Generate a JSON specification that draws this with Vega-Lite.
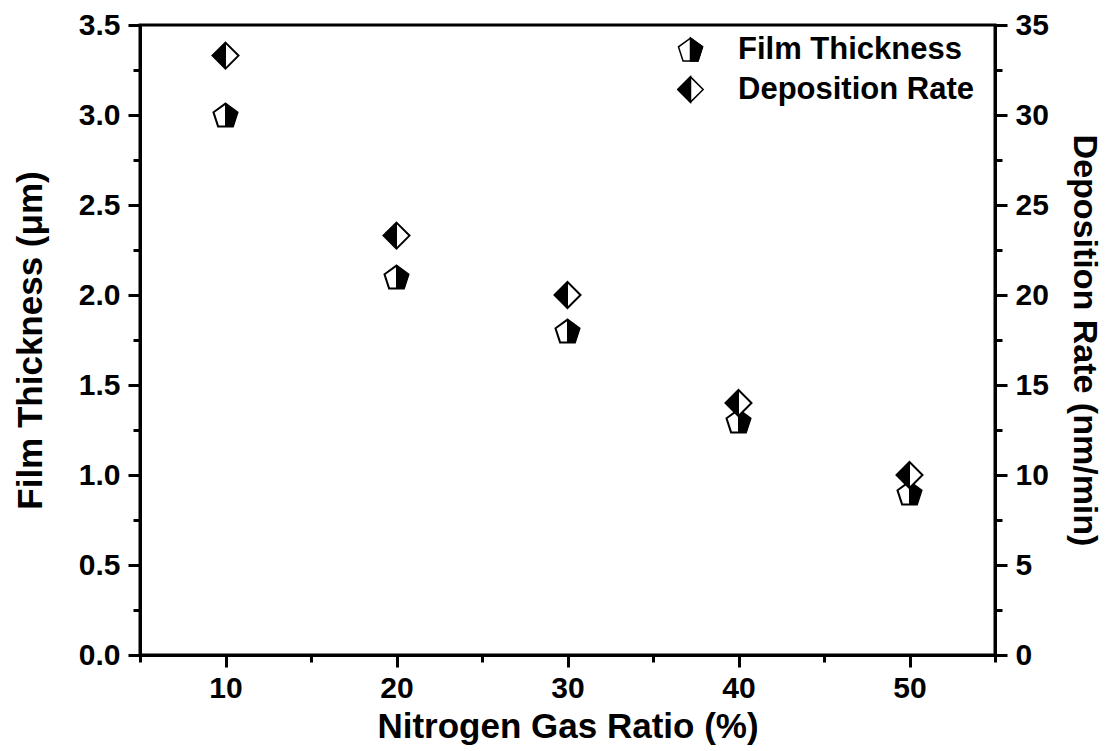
{
  "$schema": "https://vega.github.io/schema/vega-lite/v6.json",
  "width": 855,
  "height": 630,
  "autosize": {"type": "none"},
  "padding": {"left": 140, "top": 25, "right": 112, "bottom": 96},
  "background": "white",
  "config": {
    "view": {"stroke": "black", "strokeWidth": 3},
    "font": "Liberation Sans",
    "axis": {
      "domainColor": "black", "domainWidth": 3,
      "tickColor": "black", "tickWidth": 3,
      "grid": false,
      "labelFont": "Liberation Sans", "labelFontWeight": "bold", "labelFontSize": 30, "labelColor": "black",
      "titleFont": "Liberation Sans", "titleFontWeight": "bold", "titleFontSize": 35, "titleColor": "black",
      "labelOverlap": false, "labelFlush": false
    },
    "legend": {
      "labelFont": "Liberation Sans", "labelFontWeight": "bold", "labelFontSize": 31, "labelColor": "black",
      "labelLimit": 500, "padding": 0, "rowPadding": 8
    }
  },
  "data": {
    "values": [
      {"ratio": 10, "series": "Film Thickness", "value": 3.0},
      {"ratio": 20, "series": "Film Thickness", "value": 2.1},
      {"ratio": 30, "series": "Film Thickness", "value": 1.8},
      {"ratio": 40, "series": "Film Thickness", "value": 1.3},
      {"ratio": 50, "series": "Film Thickness", "value": 0.9},
      {"ratio": 10, "series": "Deposition Rate", "value": 33.3},
      {"ratio": 20, "series": "Deposition Rate", "value": 23.3},
      {"ratio": 30, "series": "Deposition Rate", "value": 20},
      {"ratio": 40, "series": "Deposition Rate", "value": 14},
      {"ratio": 50, "series": "Deposition Rate", "value": 10}
    ]
  },
  "encoding": {
    "x": {
      "field": "ratio", "type": "quantitative",
      "scale": {"domain": [5, 55], "nice": false, "zero": false},
      "axis": {
        "title": "Nitrogen Gas Ratio (%)",
        "values": [5, 10, 15, 20, 25, 30, 35, 40, 45, 50, 55],
        "labelExpr": "datum.value % 10 === 0 ? datum.label : ''",
        "tickSize": {"condition": {"test": "datum.value % 10 === 0", "value": 12}, "value": 7},
        "labelPadding": 6,
        "titlePadding": 6
      }
    }
  },
  "layer": [
    {
      "transform": [{"filter": "datum.series === 'Film Thickness'"}],
      "encoding": {
        "y": {
          "field": "value", "type": "quantitative",
          "scale": {"domain": [0, 3.5], "nice": false},
          "axis": {
            "orient": "left",
            "title": "Film Thickness (μm)",
            "values": [0, 0.25, 0.5, 0.75, 1, 1.25, 1.5, 1.75, 2, 2.25, 2.5, 2.75, 3, 3.25, 3.5],
            "labelExpr": "datum.value % 0.5 === 0 ? format(datum.value, '.1f') : ''",
            "tickSize": {"condition": {"test": "datum.value % 0.5 === 0", "value": 12}, "value": 7},
            "labelPadding": 8,
            "titlePadding": 30
          }
        }
      },
      "layer": [
        {
          "mark": {"type": "point", "filled": true, "fill": "white", "stroke": "black", "strokeWidth": 2, "size": 637, "opacity": 1},
          "encoding": {
            "shape": {
              "datum": "Film Thickness",
              "scale": {
                "domain": ["Film Thickness", "Deposition Rate"],
                "range": ["M0,-0.905L0.951,-0.214L0.588,0.905L-0.588,0.905L-0.951,-0.214Z", "M0,-1L1,0L0,1L-1,0Z"]
              },
              "legend": {
                "title": null, "orient": "none", "legendX": 535, "legendY": 9,
                "symbolSize": 640, "labelOffset": 32,
                "encode": {"symbols": {"update": {"fill": {"value": "transparent"}, "stroke": {"value": "black"}, "strokeWidth": {"value": 2}, "opacity": {"value": 1}}}}
              }
            }
          }
        },
        {
          "mark": {"type": "point", "filled": true, "shape": "M0,-0.905L0.951,-0.214L0.588,0.905L0,0.905Z", "stroke": "black", "strokeWidth": 1, "size": 637, "opacity": 1},
          "encoding": {
            "color": {
              "datum": "FT",
              "scale": {"domain": ["FT"], "range": ["black"]},
              "legend": {
                "title": null, "orient": "none", "legendX": 535, "legendY": 9,
                "symbolSize": 640, "labelOffset": 32, "labelExpr": "''",
                "encode": {"symbols": {"update": {"fill": {"value": "black"}, "stroke": {"value": "black"}, "strokeWidth": {"value": 1}, "opacity": {"value": 1}}}}
              }
            }
          }
        }
      ]
    },
    {
      "transform": [{"filter": "datum.series === 'Deposition Rate'"}],
      "encoding": {
        "y": {
          "field": "value", "type": "quantitative",
          "scale": {"domain": [0, 35], "nice": false},
          "axis": {
            "orient": "right",
            "title": "Deposition Rate (nm/min)",
            "values": [0, 2.5, 5, 7.5, 10, 12.5, 15, 17.5, 20, 22.5, 25, 27.5, 30, 32.5, 35],
            "labelExpr": "datum.value % 5 === 0 ? format(datum.value, 'd') : ''",
            "tickSize": {"condition": {"test": "datum.value % 5 === 0", "value": 12}, "value": 7},
            "labelPadding": 8,
            "titlePadding": 18,
            "titleFontSize": 34
          }
        }
      },
      "layer": [
        {
          "mark": {"type": "point", "filled": true, "fill": "white", "stroke": "black", "strokeWidth": 2, "size": 676, "opacity": 1},
          "encoding": {
            "shape": {"datum": "Deposition Rate"}
          }
        },
        {
          "mark": {"type": "point", "filled": true, "shape": "M0,-1L-1,0L0,1Z", "stroke": "black", "strokeWidth": 1, "size": 676, "opacity": 1},
          "encoding": {
            "fill": {
              "datum": "DR",
              "scale": {"domain": ["DR"], "range": ["black"]},
              "legend": {
                "title": null, "orient": "none", "legendX": 535, "legendY": 49,
                "symbolSize": 640, "labelOffset": 32, "labelExpr": "''",
                "encode": {"symbols": {"update": {"fill": {"value": "black"}, "stroke": {"value": "black"}, "strokeWidth": {"value": 1}, "opacity": {"value": 1}}}}
              }
            }
          }
        }
      ]
    }
  ],
  "resolve": {"scale": {"y": "independent"}}
}
